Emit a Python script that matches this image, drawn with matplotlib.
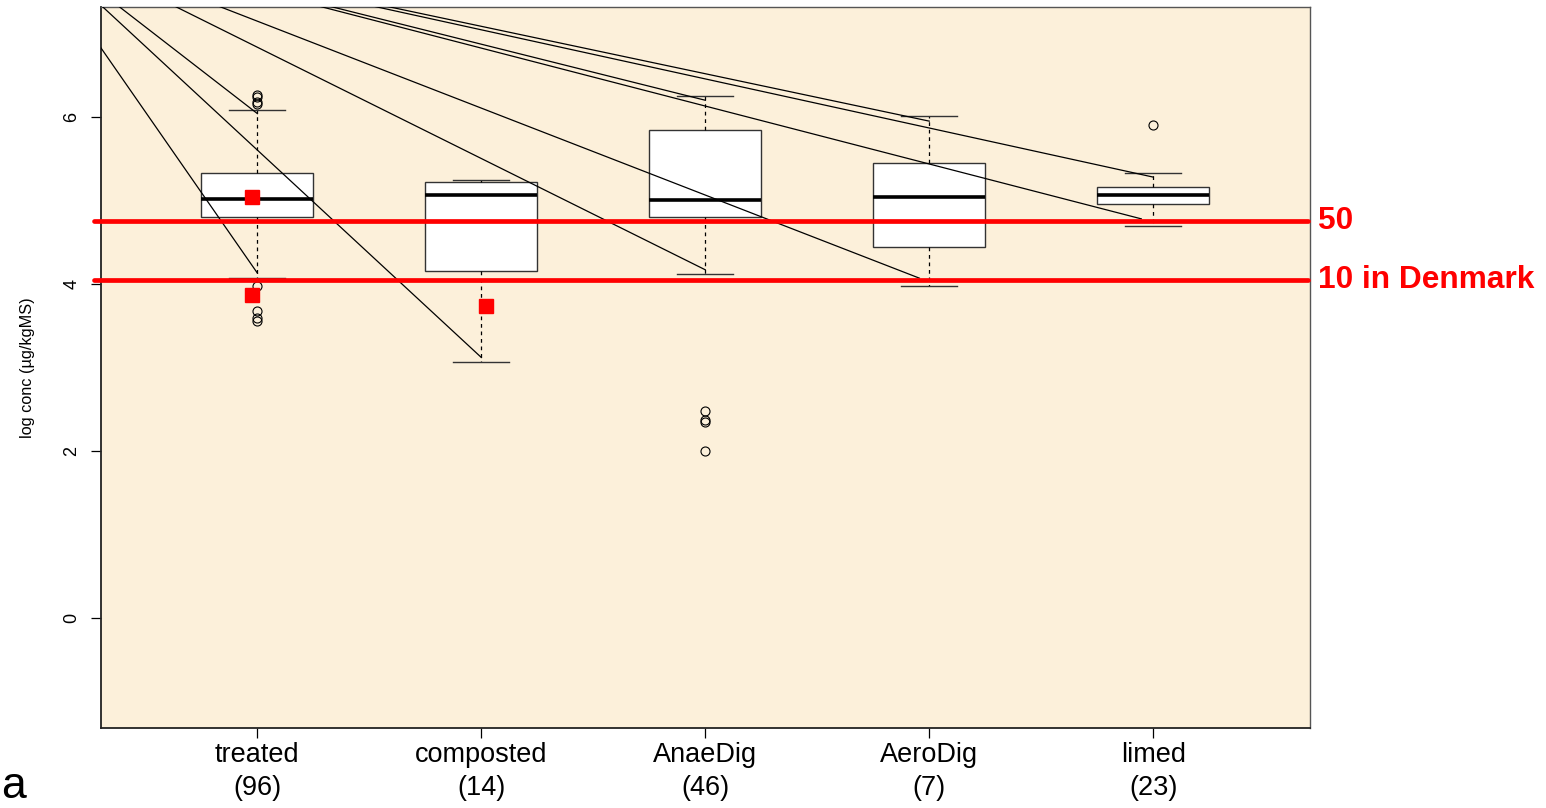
import matplotlib.pyplot as plt

plt.rcParams['font.family'] = ['Liberation Sans', 'DejaVu Sans']

groups = ['treated', 'composted', 'AnaeDig', 'AeroDig', 'limed']
counts = [96, 14, 46, 7, 23]
whislo = [4.07, 3.07, 4.12, 3.98, 4.69]
q1 = [4.80, 4.16, 4.80, 4.44, 4.96]
med = [5.02, 5.06, 5.00, 5.04, 5.06]
q3 = [5.33, 5.22, 5.84, 5.45, 5.16]
whishi = [6.08, 5.25, 6.25, 6.01, 5.33]
fliers = [[6.26, 6.24, 6.18, 6.15, 3.98, 3.68, 3.59, 3.56],
          [],
          [2.48, 2.37, 2.35, 2.00],
          [],
          [5.90]]

# red squares
sq_x = [0.978, 0.978, 2.021]
sq_y = [5.04, 3.87, 3.74]

# guide lines from a common point (outside the plot) to whisker ends
origin = (-0.07, 8.26)
end_x = [1.0, 1.0, 2.0, 3.0, 3.0, 3.956, 4.0, 4.947, 5.0]
end_y = [4.13, 6.04, 3.12, 4.17, 6.20, 4.07, 5.95, 4.78, 5.28]

thresholds = [4.75, 4.05]
threshold_labels = ['50', '10 in Denmark']

yticks = [0, 2, 4, 6]

fig = plt.figure(figsize=(15.46, 8.08), dpi=100)
ax = fig.add_axes([0.0651, 0.0986, 0.7822, 0.8931])
ax.set_facecolor('#FCF0DA')

stats = []
for i in range(len(groups)):
    stats.append({'label': groups[i], 'whislo': whislo[i], 'q1': q1[i], 'med': med[i],
                  'q3': q3[i], 'whishi': whishi[i], 'fliers': fliers[i]})

pos = list(range(1, len(groups) + 1))
ax.bxp(stats, positions=pos, widths=0.5, patch_artist=True, manage_ticks=False,
       boxprops=dict(facecolor='white', edgecolor='#333333', linewidth=1.0),
       medianprops=dict(color='black', linewidth=2.6, solid_capstyle='butt'),
       whiskerprops=dict(color='black', linewidth=0.9, linestyle=(0, (3, 3))),
       capprops=dict(color='#333333', linewidth=1.0),
       flierprops=dict(marker='o', markerfacecolor='none', markeredgecolor='black',
                       markersize=6.5, markeredgewidth=0.8))

for x, y in zip(end_x, end_y):
    ax.plot([origin[0], x], [origin[1], y], color='black', linewidth=0.9, zorder=4)

for t, lab in zip(thresholds, threshold_labels):
    ax.plot([0.27, 5.69], [t, t], color='red', linewidth=3.4, solid_capstyle='round',
            clip_on=False, zorder=5)
    ax.text(1.0066, t, lab, transform=ax.get_yaxis_transform(), color='red',
            fontsize=22.8, fontweight='bold', ha='left', va='center', clip_on=False)

ax.plot(sq_x, sq_y, linestyle='none', marker='s', color='red', markersize=9.4, zorder=6)

ax.set_xlim(0.3, 5.7)
ax.set_ylim(-1.32, 7.32)
ax.set_xticks(pos)
ax.set_xticklabels([f'{g}\n({c})' for g, c in zip(groups, counts)], fontsize=19.5,
                   linespacing=1.38)
ax.set_yticks(yticks)
ax.set_yticklabels([str(v) for v in yticks], fontsize=13, rotation=90, va='center')
ax.tick_params(axis='x', length=7, width=0.9, pad=2.5)
ax.tick_params(axis='y', length=7, width=0.9, pad=7.5)

for s in ['left', 'bottom']:
    ax.spines[s].set_color('#222222')
    ax.spines[s].set_linewidth(1.3)
for s in ['top', 'right']:
    ax.spines[s].set_color('#555555')
    ax.spines[s].set_linewidth(1.0)

ax.set_ylabel('log conc (µg/kgMS)', fontsize=11.7)
ax.yaxis.set_label_coords(-0.054, 0.5)

fig.text(1 / 1546, 1 / 808, 'a', fontsize=32, ha='left', va='bottom')

fig.savefig('out.png', dpi=100)
